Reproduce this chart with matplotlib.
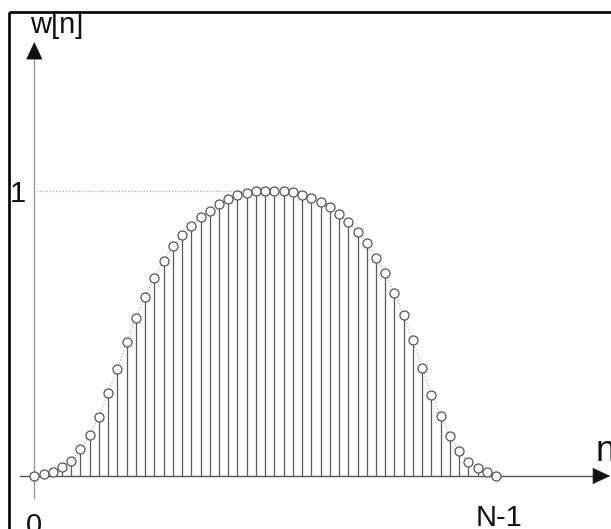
import numpy as np
import matplotlib
matplotlib.use('Agg')
import matplotlib.pyplot as plt

# window samples, n = 0 .. N-1 (N = 51)
n = np.arange(51)
w = [0.000, 0.007, 0.013, 0.030, 0.053, 0.094, 0.144, 0.207, 0.292, 0.376,
     0.469, 0.553, 0.628, 0.694, 0.755, 0.805, 0.844, 0.876, 0.909, 0.929,
     0.953, 0.970, 0.984, 0.992, 0.999, 0.999, 1.000, 0.999, 0.994, 0.986,
     0.974, 0.959, 0.944, 0.918, 0.890, 0.856, 0.817, 0.765, 0.712, 0.640,
     0.564, 0.476, 0.379, 0.285, 0.210, 0.141, 0.088, 0.050, 0.028, 0.014,
     0.000]
xtick_labels = ['0', 'N-1']
ytick_label = '1'

plt.rcParams['font.family'] = ['Liberation Sans', 'DejaVu Sans']

fig = plt.figure(figsize=(6.11, 5.29), dpi=100)
ax = fig.add_axes([0, 0, 1, 1])
ax.axis('off')
ax.set_xlim(-3.715, 62.45)
ax.set_ylim(-0.1858, 1.6684)

# frame (top and left only, rest is cut off)
ax.plot([-2.74, 62.45], [1.6264, 1.6264], color='k', lw=1.9, solid_capstyle='butt', clip_on=False)
ax.plot([-2.74, -2.74], [-0.1858, 1.6264], color='k', lw=1.9, solid_capstyle='butt', clip_on=False)

# axes with arrow heads
ax.plot([0, 0], [-0.077, 1.47], color='#9a9a9a', lw=1.0)
ax.plot([-1.55, 60.7], [0, 0], color='#555555', lw=1.0)
head = dict(arrowstyle='-|>,head_length=11.5,head_width=5.4', mutation_scale=1,
            color='#111111', lw=0.6, shrinkA=0, shrinkB=0)
ax.annotate('', xy=(0, 1.521), xytext=(0, 1.465), arrowprops=head)
ax.annotate('', xy=(62.35, 0), xytext=(60.6, 0), arrowprops=head)

# dotted reference at w = 1 and dotted envelope
ax.plot([0.3, 23], [1, 1], color='#b0b0b0', lw=0.9, ls=(0, (1, 1.5)))
ax.plot(n, w, color='#b5b5b5', lw=0.9, ls=(0, (1, 1.5)), zorder=2)

# stems and open circles
ax.vlines(n, 0, w, color='#5a5a5a', lw=0.9, zorder=3)
ax.plot(n, w, 'o', ms=6.5, mfc='white', mec='#555555', mew=0.9, zorder=4)

# labels
ax.text(-0.47, 1.553, 'w[n]', fontsize=21, color='#111111', ha='left', va='baseline')
ax.text(-1.77, 0.960, ytick_label, fontsize=21, color='#111111', ha='center', va='baseline')
ax.text(n[0] - 0.08, -0.203, xtick_labels[0], fontsize=21, color='#111111', ha='center', va='baseline', clip_on=False)
ax.text(n[-1] + 0.3, -0.175, xtick_labels[1], fontsize=21, color='#111111', ha='center', va='baseline', clip_on=False)
ax.text(60.78, 0.0526, 'n', fontsize=26, color='#111111', ha='left', va='baseline', clip_on=False)

fig.savefig('out.png', dpi=100)
